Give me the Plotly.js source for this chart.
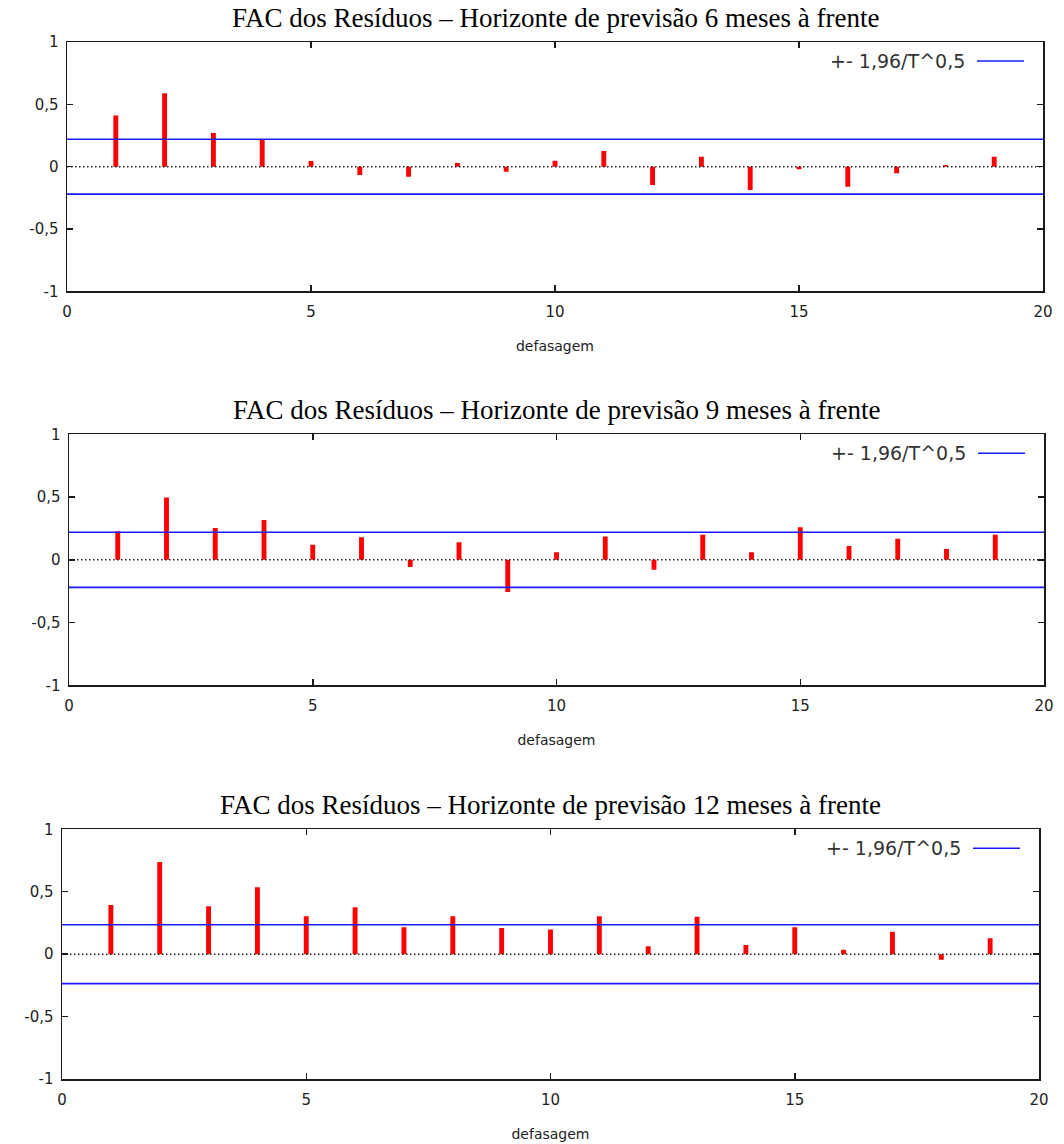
<!DOCTYPE html>
<html>
<head>
<meta charset="utf-8">
<script src="https://cdn.plot.ly/plotly-3.0.1.min.js"></script>
<style>html,body{margin:0;padding:0;background:#fff;}#chart{width:1064px;height:1144px;}</style>
</head>
<body>
<div id="chart"></div>
<script>
// ---- data ----
const lags = [1,2,3,4,5,6,7,8,9,10,11,12,13,14,15,16,17,18,19];
const acf6 = [0.41,0.59,0.27,0.22,0.045,-0.066,-0.08,0.03,-0.04,0.048,0.125,-0.146,0.08,-0.186,-0.02,-0.16,-0.053,0.013,0.08];
const acf9 = [0.225,0.497,0.254,0.317,0.12,0.18,-0.058,0.14,-0.257,0.06,0.185,-0.08,0.2,0.06,0.26,0.11,0.167,0.087,0.2];
const acf12 = [0.394,0.739,0.383,0.535,0.303,0.375,0.215,0.303,0.21,0.197,0.303,0.064,0.30,0.074,0.215,0.035,0.18,-0.045,0.128];
const bands = [0.22, 0.22, 0.236];
const titles = [
  "FAC dos Resíduos – Horizonte de previsão 6 meses à frente",
  "FAC dos Resíduos – Horizonte de previsão 9 meses à frente",
  "FAC dos Resíduos – Horizonte de previsão 12 meses à frente"
];
const legendLabel = "+- 1,96/T^0,5";
const xTickVals = [0,5,10,15,20];
const xTickText = ["0","5","10","15","20"];
const yTickVals = [-1,-0.5,0,0.5,1];
const yTickText = ["-1","-0,5","0","0,5","1"];
const xTitle = "defasagem";
const series = [acf6, acf9, acf12];

// ---- layout helpers (pixel boxes of each panel) ----
const W = 1064, H = 1144;
const boxes = [
  {l:67, r:1043, t:42, b:291.4},
  {l:69, r:1044, t:434.3, b:685.3},
  {l:62, r:1039, t:829.3, b:1079}
];
const px = x => x / W;
const py = y => 1 - y / H;

const traces = [];
const layout = {
  width: W, height: H,
  margin: {l:0, r:0, t:0, b:0},
  paper_bgcolor: "#ffffff",
  plot_bgcolor: "#ffffff",
  showlegend: false,
  annotations: [],
  shapes: []
};

boxes.forEach((bx, i) => {
  const s = i === 0 ? "" : String(i + 1);
  const xa = "x" + s, ya = "y" + s;
  const axCommon = {
    showgrid: false, zeroline: false,
    showline: true, linecolor: "#1a1a1a", linewidth: 1.5, mirror: "ticks",
    ticks: "inside", ticklen: 6, tickwidth: 1.5, tickcolor: "#1a1a1a",
    tickfont: {family: "DejaVu Sans", size: 15, color: "#222"},
    fixedrange: true
  };
  layout["xaxis" + s] = Object.assign({}, axCommon, {
    domain: [px(bx.l), px(bx.r)], anchor: ya, range: [0, 20],
    tickmode: "array", tickvals: xTickVals, ticktext: xTickText,
    ticklabelstandoff: 6,
    title: {text: xTitle, font: {family: "DejaVu Sans", size: 14, color: "#222"}, standoff: 21}
  });
  layout["yaxis" + s] = Object.assign({}, axCommon, {
    domain: [py(bx.b), py(bx.t)], anchor: xa, range: [-1, 1],
    tickmode: "array", tickvals: yTickVals, ticktext: yTickText,
    ticklabelstandoff: 4
  });

  // zero dotted line
  traces.push({type: "scatter", mode: "lines", x: [0, 20], y: [0, 0], xaxis: xa, yaxis: ya,
    line: {color: "#222", width: 1.5, dash: "1.5px,2.5px"}, hoverinfo: "skip"});
  // acf bars
  traces.push({type: "bar", x: lags, y: series[i], width: 0.1, xaxis: xa, yaxis: ya,
    marker: {color: "#ff0000", line: {width: 0}}});
  // confidence bands
  traces.push({type: "scatter", mode: "lines", x: [0, 20], y: [bands[i], bands[i]], xaxis: xa, yaxis: ya,
    line: {color: "#1a1aff", width: 1.6}, name: legendLabel});
  traces.push({type: "scatter", mode: "lines", x: [0, 20], y: [-bands[i], -bands[i]], xaxis: xa, yaxis: ya,
    line: {color: "#1a1aff", width: 1.6}, showlegend: false});

  // title
  layout.annotations.push({
    text: titles[i], xref: "paper", yref: "paper",
    x: px((bx.l + bx.r) / 2), y: py(bx.t - 24), xanchor: "center", yanchor: "middle",
    showarrow: false, font: {family: "Liberation Serif", size: 27, color: "#000"}
  });
  // legend text + sample line
  layout.annotations.push({
    text: legendLabel, xref: "paper", yref: "paper",
    x: px(bx.r - 76), y: py(bx.t + 19), xanchor: "right", yanchor: "middle",
    showarrow: false, font: {family: "DejaVu Sans", size: 19, color: "#333"}
  });
  layout.shapes.push({type: "line", xref: "paper", yref: "paper",
    x0: px(bx.r - 66), x1: px(bx.r - 19), y0: py(bx.t + 19), y1: py(bx.t + 19),
    line: {color: "#1a1aff", width: 1.6}});
});

layout.barmode = "overlay";
Plotly.newPlot("chart", traces, layout, {staticPlot: true, displayModeBar: false});
</script>
</body>
</html>
